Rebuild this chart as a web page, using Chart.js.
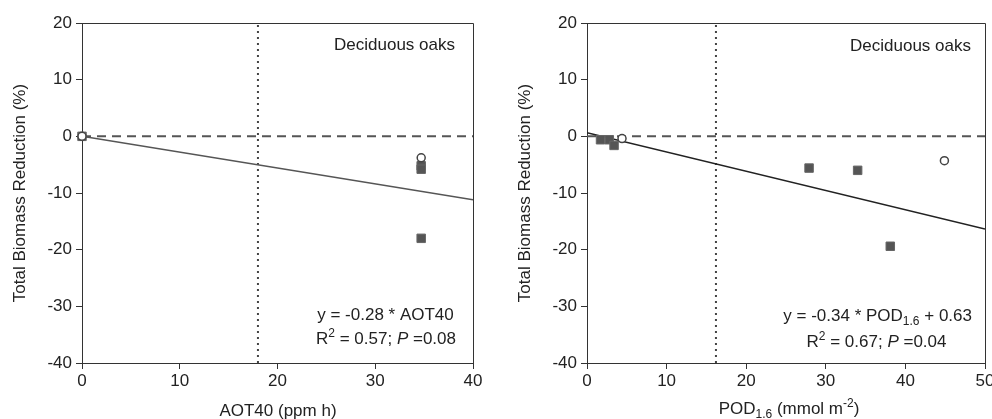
<!DOCTYPE html>
<html>
<head>
<meta charset="utf-8">
<title>Deciduous oaks</title>
<script src="https://cdn.jsdelivr.net/npm/chart.js@4.4.1/dist/chart.umd.min.js"></script>
<style>
  body { margin: 0; background: #fff; }
  .wrap { position: absolute; top: 0; width: 496px; height: 419px; }
</style>
</head>
<body>
<div class="wrap" style="left:0"><canvas id="aotChart" width="496" height="419"></canvas></div>
<div class="wrap" style="left:496px"><canvas id="podChart" width="496" height="419"></canvas></div>
<script>
// left panel: AOT40
var aotSquaresX = [0, 34.7, 34.7, 34.7];
var aotSquaresY = [0, -5.2, -5.8, -18.0];
var aotCirclesX = [0, 34.7];
var aotCirclesY = [0, -3.8];
var aotFitX = [0, 40];
var aotFitY = [0, -11.2];
var aotThreshold = 18;

// right panel: POD1.6
var podSquaresX = [1.7, 2.8, 3.4, 27.9, 34.0, 38.1];
var podSquaresY = [-0.6, -0.6, -1.6, -5.6, -6.0, -19.4];
var podCirclesX = [4.4, 44.9];
var podCirclesY = [-0.4, -4.3];
var podFitX = [0, 50];
var podFitY = [0.63, -16.37];
var podThreshold = 16.2;

var yTicks = [-40, -30, -20, -10, 0, 10, 20];
var FONT = "'Liberation Sans', Arial, sans-serif";
var TXT = '#222';

function pts(xs, ys) {
    var out = [];
    for (var i = 0; i < xs.length; i++) out.push({ x: xs[i], y: ys[i] });
    return out;
}

// draws a line of mixed text: [text, kind] where kind is n, i, sup, sub
function richText(ctx, parts, x, y, align) {
    var size = 17, small = 12;
    function fontFor(k) {
        if (k == 'i') return 'italic ' + size + 'px ' + FONT;
        if (k == 'sup' || k == 'sub') return small + 'px ' + FONT;
        return size + 'px ' + FONT;
    }
    var total = 0;
    parts.forEach(function (p) { ctx.font = fontFor(p[1]); total += ctx.measureText(p[0]).width; });
    var cx = align == 'right' ? x - total : (align == 'center' ? x - total / 2 : x);
    ctx.textAlign = 'left';
    ctx.textBaseline = 'alphabetic';
    ctx.fillStyle = TXT;
    parts.forEach(function (p) {
        ctx.font = fontFor(p[1]);
        var dy = p[1] == 'sup' ? -7 : (p[1] == 'sub' ? 4 : 0);
        ctx.fillText(p[0], cx, y + dy);
        cx += ctx.measureText(p[0]).width;
    });
}

function makeChart(id, cfg) {
    var framePlugin = {
        id: 'frame',
        afterDraw: function (chart) {
            var a = chart.chartArea, ctx = chart.ctx;
            ctx.save();
            ctx.strokeStyle = '#333';
            ctx.lineWidth = 1;
            ctx.beginPath();
            ctx.moveTo(a.left, a.top + 0.5);
            ctx.lineTo(a.right + 0.5, a.top + 0.5);
            ctx.lineTo(a.right + 0.5, a.bottom);
            ctx.stroke();
            cfg.labels.forEach(function (l) { richText(ctx, l.parts, l.x, l.y, l.align); });
            ctx.restore();
        }
    };
    var tickFont = { family: FONT, size: 17 };
    return new Chart(document.getElementById(id), {
        type: 'scatter',
        data: {
            datasets: [
                {
                    type: 'line', data: pts([0, cfg.xMax + cfg.dashExtra], [0, 0]),
                    borderColor: '#555', borderWidth: 2, borderDash: [9, 6],
                    pointRadius: 0, clip: false, order: 5
                },
                {
                    type: 'line', data: pts([cfg.threshold, cfg.threshold], [-40, 20]),
                    borderColor: '#444', borderWidth: 2, borderDash: [2, 4],
                    pointRadius: 0, order: 4
                },
                {
                    type: 'line', data: pts(cfg.fitX, cfg.fitY),
                    borderColor: cfg.fitColor, borderWidth: 1.5,
                    pointRadius: 0, order: 3
                },
                {
                    data: pts(cfg.sqX, cfg.sqY), pointStyle: 'rect',
                    pointRadius: 6, pointHoverRadius: 6,
                    backgroundColor: '#555', borderColor: '#666', borderWidth: 1,
                    clip: false, order: 2
                },
                {
                    data: pts(cfg.ciX, cfg.ciY), pointStyle: 'circle',
                    pointRadius: 4, pointHoverRadius: 4,
                    backgroundColor: '#fff', borderColor: '#444', borderWidth: 1.5,
                    clip: false, order: 1
                }
            ]
        },
        options: {
            responsive: false,
            animation: false,
            events: [],
            layout: { padding: { top: 23, right: cfg.padRight, left: 0, bottom: 0 } },
            plugins: { legend: { display: false }, tooltip: { enabled: false } },
            scales: {
                x: {
                    type: 'linear', min: 0, max: cfg.xMax,
                    ticks: { stepSize: 10, font: tickFont, color: TXT, padding: 2 },
                    grid: { drawOnChartArea: false, drawTicks: true, tickLength: 6, color: '#333' },
                    border: { display: true, color: '#333', width: 1 },
                    afterFit: function (s) { s.height = 56; s.paddingLeft = 0; s.paddingRight = 0; }
                },
                y: {
                    type: 'linear', min: -40, max: 20,
                    afterBuildTicks: function (s) { s.ticks = yTicks.map(function (v) { return { value: v }; }); },
                    ticks: { font: tickFont, color: TXT, padding: 4 },
                    grid: { drawOnChartArea: false, drawTicks: true, tickLength: 6, color: '#333' },
                    border: { display: true, color: '#333', width: 1 },
                    title: {
                        display: true, text: 'Total Biomass Reduction (%)', color: TXT,
                        font: { family: FONT, size: 17 }, padding: { top: cfg.yTitlePad, bottom: 0 }
                    },
                    afterFit: function (s) { s.width = cfg.yWidth; s.paddingTop = 0; s.paddingBottom = 0; }
                }
            }
        },
        plugins: [framePlugin]
    });
}

makeChart('aotChart', {
    xMax: 40, dashExtra: 0, threshold: aotThreshold,
    fitX: aotFitX, fitY: aotFitY, fitColor: '#555',
    sqX: aotSquaresX, sqY: aotSquaresY, ciX: aotCirclesX, ciY: aotCirclesY,
    padRight: 23, yWidth: 82, yTitlePad: 10,
    labels: [
        { parts: [['Deciduous oaks', 'n']], x: 455, y: 50, align: 'right' },
        { parts: [['y = -0.28 * AOT40', 'n']], x: 385.5, y: 320, align: 'center' },
        { parts: [['R', 'n'], ['2', 'sup'], [' = 0.57; ', 'n'], ['P', 'i'], [' =0.08', 'n']], x: 386, y: 344, align: 'center' },
        { parts: [['AOT40 (ppm h)', 'n']], x: 278, y: 416, align: 'center' }
    ]
});

makeChart('podChart', {
    xMax: 50, dashExtra: 0.8, threshold: podThreshold,
    fitX: podFitX, fitY: podFitY, fitColor: '#222',
    sqX: podSquaresX, sqY: podSquaresY, ciX: podCirclesX, ciY: podCirclesY,
    padRight: 7, yWidth: 91, yTitlePad: 19,
    labels: [
        { parts: [['Deciduous oaks', 'n']], x: 475, y: 51, align: 'right' },
        { parts: [['y = -0.34 * POD', 'n'], ['1.6', 'sub'], [' + 0.63', 'n']], x: 476, y: 321, align: 'right' },
        { parts: [['R', 'n'], ['2', 'sup'], [' = 0.67; ', 'n'], ['P', 'i'], [' =0.04', 'n']], x: 380.5, y: 347, align: 'center' },
        { parts: [['POD', 'n'], ['1.6', 'sub'], [' (mmol m', 'n'], ['-2', 'sup'], [')', 'n']], x: 293, y: 414, align: 'center' }
    ]
});
</script>
</body>
</html>
